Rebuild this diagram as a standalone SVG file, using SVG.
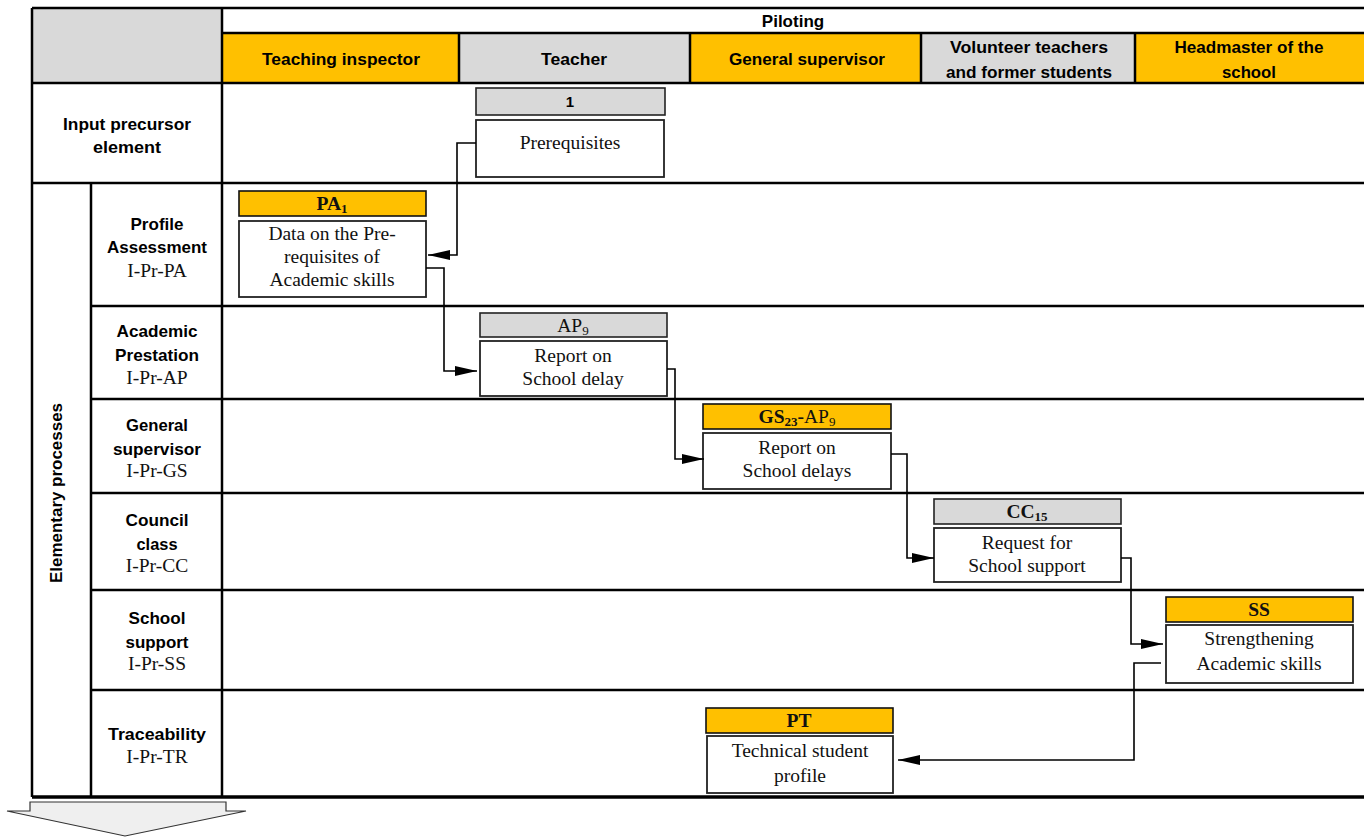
<svg xmlns="http://www.w3.org/2000/svg" width="1364" height="837" viewBox="0 0 1364 837">
<defs>
<marker id="ah" markerWidth="22" markerHeight="10" refX="22" refY="5" orient="auto" markerUnits="userSpaceOnUse">
<path d="M0,0 L22,5 L0,10 Z" fill="#000"/>
</marker>
<style>
.hdr{font-family:"Liberation Sans",Arial,sans-serif;font-weight:bold;font-size:17px;fill:#000;text-anchor:middle}
.srf{font-family:"Liberation Serif","Times New Roman",serif;font-size:19.5px;fill:#111;text-anchor:middle}
.sb{font-weight:bold}
.grid{stroke:#000;stroke-width:2.5;fill:none}
.org{fill:#FFC000;stroke:#111;stroke-width:1.6}
.gry{fill:#D9D9D9;stroke:#222;stroke-width:1.6}
.box{fill:#fff;stroke:#222;stroke-width:1.8}
.con{fill:none;stroke:#000;stroke-width:1.6}
</style>
</defs>
<rect width="1364" height="837" fill="#fff"/>
<g id="table">
<rect x="32" y="8" width="190" height="75" fill="#D9D9D9"/>
<rect x="222" y="33" width="237" height="50" fill="#FFC000"/>
<rect x="459" y="33" width="231" height="50" fill="#D9D9D9"/>
<rect x="690" y="33" width="231" height="50" fill="#FFC000"/>
<rect x="921" y="33" width="214" height="50" fill="#D9D9D9"/>
<rect x="1135" y="33" width="229" height="50" fill="#FFC000"/>
<path class="grid" d="M32,8 H1364 M222,33 H1364 M32,83 H1364 M32,183 H1364 M91,306 H1364 M91,399 H1364 M91,493 H1364 M91,590 H1364 M91,690 H1364"/>
<path class="grid" d="M32,8 V797 M222,8 V797 M91,183 V797 M459,33 V83 M690,33 V83 M921,33 V83 M1135,33 V83"/>
<path stroke="#000" stroke-width="3.5" d="M32,797 H1364"/>
<text class="hdr" x="793" y="27">Piloting</text>
<text class="hdr" x="341" y="65" textLength="158" lengthAdjust="spacingAndGlyphs">Teaching inspector</text>
<text class="hdr" x="574" y="65" textLength="66" lengthAdjust="spacingAndGlyphs">Teacher</text>
<text class="hdr" x="807" y="65" textLength="156" lengthAdjust="spacingAndGlyphs">General supervisor</text>
<text class="hdr" x="1029" y="53" textLength="158" lengthAdjust="spacingAndGlyphs">Volunteer teachers</text>
<text class="hdr" x="1029" y="78" textLength="166" lengthAdjust="spacingAndGlyphs">and former students</text>
<text class="hdr" x="1249" y="53" textLength="149" lengthAdjust="spacingAndGlyphs">Headmaster of the</text>
<text class="hdr" x="1249" y="78" textLength="54" lengthAdjust="spacingAndGlyphs">school</text>
<text class="hdr" x="127" y="130" textLength="128" lengthAdjust="spacingAndGlyphs">Input precursor</text>
<text class="hdr" x="127" y="153" textLength="68" lengthAdjust="spacingAndGlyphs">element</text>
<text class="hdr" x="62" y="493" transform="rotate(-90 62 493)" textLength="180" lengthAdjust="spacingAndGlyphs">Elementary processes</text>
<text class="hdr" x="157" y="230" textLength="53" lengthAdjust="spacingAndGlyphs">Profile</text>
<text class="hdr" x="157" y="253" textLength="100" lengthAdjust="spacingAndGlyphs">Assessment</text>
<text class="srf" x="157" y="277">I-Pr-PA</text>
<text class="hdr" x="157" y="337" textLength="81" lengthAdjust="spacingAndGlyphs">Academic</text>
<text class="hdr" x="157" y="361" textLength="84" lengthAdjust="spacingAndGlyphs">Prestation</text>
<text class="srf" x="157" y="384">I-Pr-AP</text>
<text class="hdr" x="157" y="431" textLength="62" lengthAdjust="spacingAndGlyphs">General</text>
<text class="hdr" x="157" y="455" textLength="88" lengthAdjust="spacingAndGlyphs">supervisor</text>
<text class="srf" x="157" y="477">I-Pr-GS</text>
<text class="hdr" x="157" y="526" textLength="63" lengthAdjust="spacingAndGlyphs">Council</text>
<text class="hdr" x="157" y="550" textLength="41" lengthAdjust="spacingAndGlyphs">class</text>
<text class="srf" x="157" y="572">I-Pr-CC</text>
<text class="hdr" x="157" y="624" textLength="57" lengthAdjust="spacingAndGlyphs">School</text>
<text class="hdr" x="157" y="648" textLength="63" lengthAdjust="spacingAndGlyphs">support</text>
<text class="srf" x="157" y="670">I-Pr-SS</text>
<text class="hdr" x="157" y="740" textLength="98" lengthAdjust="spacingAndGlyphs">Traceability</text>
<text class="srf" x="157" y="763">I-Pr-TR</text>
</g>
<g id="node-1">
<rect class="gry" x="476" y="88" width="189" height="27"/>
<text class="hdr" x="570" y="107" style="font-size:15px">1</text>
<rect class="box" x="476" y="120" width="188" height="57"/>
<text class="srf" x="570" y="149">Prerequisites</text>
</g>
<g id="node-PA1">
<rect class="org" x="239" y="191" width="187" height="25"/>
<text class="srf sb" x="332" y="210">PA<tspan font-size="13" dy="3">1</tspan></text>
<rect class="box" x="239" y="221" width="187" height="76"/>
<text class="srf" x="332" y="240">Data on the Pre-</text>
<text class="srf" x="332" y="263">requisites of</text>
<text class="srf" x="332" y="286">Academic skills</text>
</g>
<g id="node-AP9">
<rect class="gry" x="480" y="313" width="187" height="24"/>
<text class="srf" x="573" y="332">AP<tspan font-size="13" dy="3">9</tspan></text>
<rect class="box" x="480" y="341" width="187" height="55"/>
<text class="srf" x="573" y="362">Report on</text>
<text class="srf" x="573" y="385">School delay</text>
</g>
<g id="node-GS23">
<rect class="org" x="703" y="404" width="188" height="25"/>
<text class="srf" x="797" y="423"><tspan font-weight="bold">GS</tspan><tspan font-size="13" font-weight="bold" dy="3">23</tspan><tspan font-weight="bold" dy="-3">-</tspan>AP<tspan font-size="13" dy="3">9</tspan></text>
<rect class="box" x="703" y="433" width="188" height="56"/>
<text class="srf" x="797" y="454">Report on</text>
<text class="srf" x="797" y="477">School delays</text>
</g>
<g id="node-CC15">
<rect class="gry" x="934" y="499" width="187" height="25"/>
<text class="srf sb" x="1027" y="518">CC<tspan font-size="13" dy="3">15</tspan></text>
<rect class="box" x="934" y="528" width="187" height="54"/>
<text class="srf" x="1027" y="549">Request for</text>
<text class="srf" x="1027" y="572">School support</text>
</g>
<g id="node-SS">
<rect class="org" x="1166" y="597" width="187" height="25"/>
<text class="srf sb" x="1259" y="616">SS</text>
<rect class="box" x="1166" y="625" width="187" height="58"/>
<text class="srf" x="1259" y="645">Strengthening</text>
<text class="srf" x="1259" y="670">Academic skills</text>
</g>
<g id="node-PT">
<rect class="org" x="706" y="708" width="187" height="25"/>
<text class="srf sb" x="799" y="727">PT</text>
<rect class="box" x="707" y="736" width="186" height="57"/>
<text class="srf" x="800" y="757">Technical student</text>
<text class="srf" x="800" y="782">profile</text>
</g>
<g id="connectors">
<path class="con" marker-end="url(#ah)" d="M476,143 H457 V255 H428"/>
<path class="con" marker-end="url(#ah)" d="M426,268 H444 V371 H477"/>
<path class="con" marker-end="url(#ah)" d="M667,369 H675 V459 H704"/>
<path class="con" marker-end="url(#ah)" d="M891,454 H907 V558 H934"/>
<path class="con" marker-end="url(#ah)" d="M1121,558 H1131 V644 H1163"/>
<path class="con" marker-end="url(#ah)" d="M1161,663 H1134 V760 H898"/>
</g>
<g id="bottom-arrow">
<path d="M30,802 L226,802 L226,811 L246,811 L125,836 L7,811 L30,811 Z" fill="#EFEFEF" stroke="#333" stroke-width="1.2"/>
</g>
</svg>
